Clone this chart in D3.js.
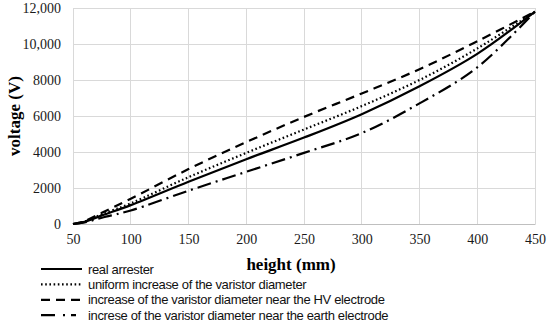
<!DOCTYPE html>
<html>
<head>
<meta charset="utf-8">
<script src="https://cdn.jsdelivr.net/npm/d3@7"></script>
<style>
  body { margin: 0; background: #fff; }
</style>
</head>
<body>
<div id="chart"></div>
<script>
// data
const heights = [50, 60, 75, 100, 150, 200, 250, 300, 350, 400, 450];
const realArrester = [0, 120, 480, 1050, 2350, 3600, 4800, 6100, 7650, 9450, 11800];
const uniformIncrease = [0, 140, 540, 1150, 2600, 3950, 5250, 6550, 8000, 9750, 11800];
const increaseHV = [0, 160, 620, 1400, 3050, 4550, 5950, 7250, 8600, 10150, 11800];
const increaseEarth = [0, 90, 350, 750, 1850, 2900, 3950, 5050, 6700, 8700, 11800];
const yTicks = [0, 2000, 4000, 6000, 8000, 10000, 12000];
const xTicks = [50, 100, 150, 200, 250, 300, 350, 400, 450];

const seriesNames = [
  "real arrester",
  "uniform increase of the varistor diameter",
  "increase of the varistor diameter near the HV electrode",
  "increse of the varistor diameter near the earth electrode"
];
const seriesValues = [realArrester, uniformIncrease, increaseHV, increaseEarth];
const dashes = [null, "1.6,2.6", "9,6", "14,5,2,5"];

const width = 550, height = 323;
const margin = {left: 73, right: 15, top: 8, bottom: 99};
const serif = "Liberation Serif";

const svg = d3.select("#chart").append("svg")
  .attr("width", width).attr("height", height);

const x = d3.scaleLinear().domain([50, 450]).range([margin.left, width - margin.right]);
const y = d3.scaleLinear().domain([0, 12000]).range([height - margin.bottom, margin.top]);

// gridlines
svg.append("g").selectAll("line.h").data(yTicks).enter().append("line")
  .attr("x1", x(50)).attr("x2", x(450))
  .attr("y1", d => y(d)).attr("y2", d => y(d))
  .attr("stroke", "#d9d9d9").attr("stroke-width", 1).attr("shape-rendering", "crispEdges");
svg.append("g").selectAll("line.v").data(xTicks).enter().append("line")
  .attr("x1", d => x(d)).attr("x2", d => x(d))
  .attr("y1", y(0)).attr("y2", y(12000))
  .attr("stroke", "#d9d9d9").attr("stroke-width", 1).attr("shape-rendering", "crispEdges");

// axes
const fmt = d => d >= 10000 ? d3.format(",")(d) : String(d);
const yAxis = svg.append("g")
  .attr("transform", "translate(" + (margin.left) + ",0)")
  .call(d3.axisLeft(y).tickValues(yTicks).tickFormat(fmt).tickSize(0).tickPadding(12));
yAxis.select(".domain").remove();

const xAxis = svg.append("g")
  .attr("transform", "translate(0," + y(0) + ")")
  .call(d3.axisBottom(x).tickValues(xTicks).tickSize(0).tickPadding(10));
xAxis.select(".domain").attr("stroke", "#bfbfbf");

svg.selectAll(".tick text")
  .style("font-family", serif)
  .style("font-size", "14px")
  .style("fill", "#1a1a1a");

// lines
const line = d3.line()
  .x((d, i) => x(heights[i]))
  .y(d => y(d))
  .curve(d3.curveCatmullRom.alpha(0.5));

seriesValues.forEach(function(vals, i) {
  svg.append("path")
    .datum(vals)
    .attr("d", line)
    .attr("fill", "none")
    .attr("stroke", "#000")
    .attr("stroke-width", 2.2)
    .attr("stroke-dasharray", dashes[i]);
});

// axis titles
svg.append("text")
  .attr("transform", "translate(20," + (y(6000)) + ") rotate(-90)")
  .attr("text-anchor", "middle")
  .style("font-family", serif)
  .style("font-weight", "bold").style("font-size", "17px")
  .text("voltage (V)");

svg.append("text")
  .attr("x", 291).attr("y", 270)
  .attr("text-anchor", "middle")
  .style("font-family", serif)
  .style("font-weight", "bold").style("font-size", "17px")
  .text("height (mm)");

// legend
const legend = svg.append("g");
seriesNames.forEach(function(name, i) {
  const ly = 269 + i * 15.4;
  legend.append("line")
    .attr("x1", 41).attr("x2", 82).attr("y1", ly).attr("y2", ly)
    .attr("stroke", "#000").attr("stroke-width", 2.2)
    .attr("stroke-dasharray", i == 3 ? "14,8,2,6,5" : dashes[i]);
  legend.append("text")
    .attr("x", 88).attr("y", ly + 4.5)
    .style("font-family", "Liberation Sans")
    .style("font-size", "13px")
    .style("letter-spacing", "-0.35px")
    .attr("fill", "#111")
    .text(name);
});
</script>
</body>
</html>
